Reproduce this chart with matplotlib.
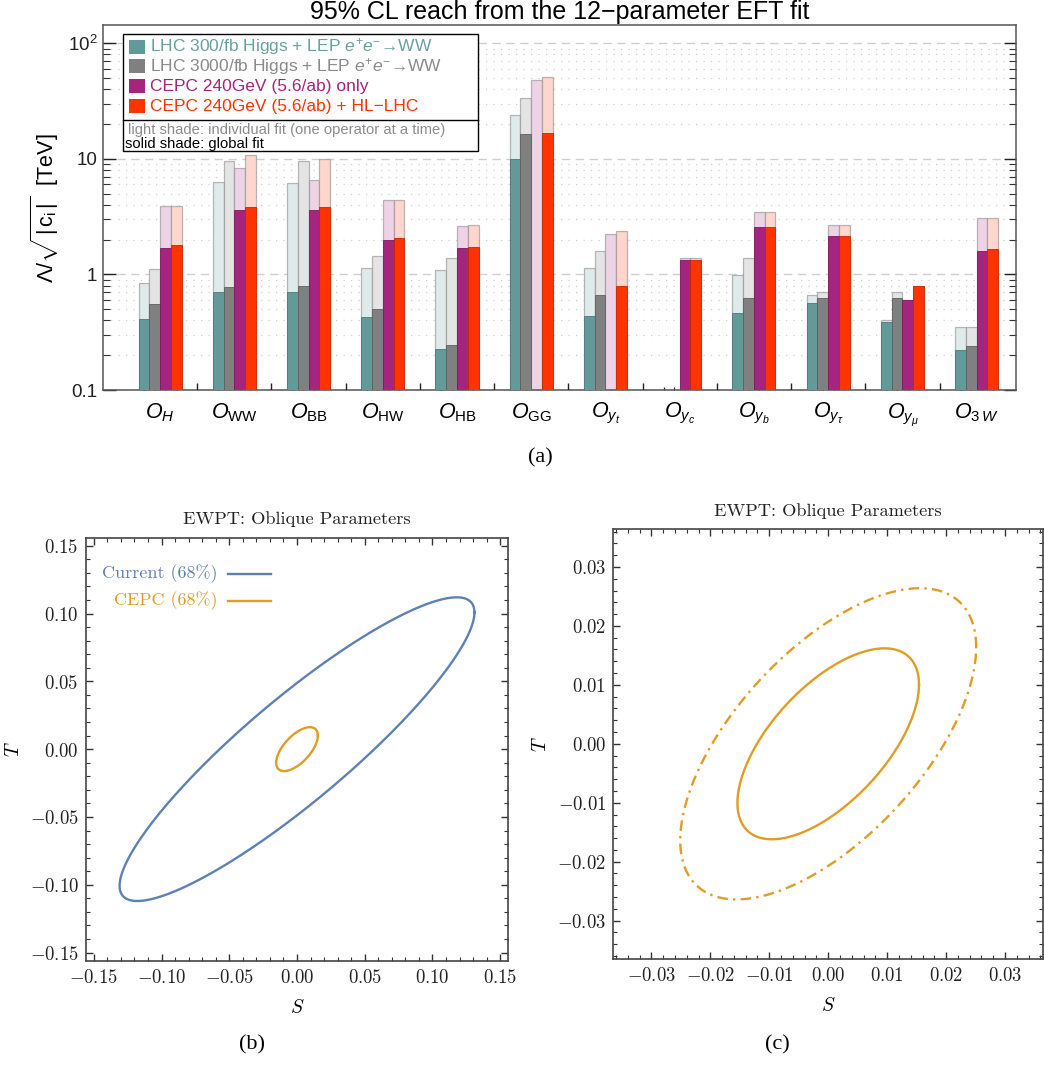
import numpy as np
import matplotlib
matplotlib.use("Agg")
import matplotlib.pyplot as plt
from matplotlib.patches import Rectangle
from matplotlib.ticker import FixedLocator, NullFormatter, MultipleLocator
from matplotlib.transforms import blended_transform_factory

plt.rcParams['mathtext.fontset'] = 'custom'
plt.rcParams['mathtext.rm'] = 'Liberation Sans'
plt.rcParams['mathtext.it'] = 'Liberation Sans:italic'
plt.rcParams['mathtext.bf'] = 'Liberation Sans:bold'

SANS = 'Liberation Sans'
SERIF = 'Liberation Serif'
CMR = 'cmr10'

# ---- (a) 95% CL reach, Lambda/sqrt(|c_i|) in TeV ----
operators = [r'$O_H$', r'$O_{\mathrm{WW}}$', r'$O_{\mathrm{BB}}$', r'$O_{\mathrm{HW}}$',
             r'$O_{\mathrm{HB}}$', r'$O_{\mathrm{GG}}$', r'$O_{y_t}$', r'$O_{y_c}$',
             r'$O_{y_b}$', r'$O_{y_\tau}$', r'$O_{y_\mu}$', r'$O_{3\,W}$']

nan = np.nan
# individual fit (one operator at a time)
lhc300_indiv = [0.85, 6.3, 6.2, 1.13, 1.09, 24.0, 1.14, nan, 0.99, 0.66, 0.40, 0.35]
lhc3000_indiv = [1.12, 9.6, 9.6, 1.43, 1.39, 33.3, 1.58, nan, 1.38, 0.71, 0.71, 0.35]
cepc_indiv = [3.9, 8.4, 6.6, 4.4, 2.65, 48.0, 2.25, 1.39, 3.5, 2.67, 0.60, 3.1]
cepc_hl_indiv = [3.9, 10.8, 10.0, 4.4, 2.69, 51.0, 2.39, 1.39, 3.5, 2.67, 0.79, 3.1]
# global fit
lhc300_glob = [0.41, 0.70, 0.71, 0.43, 0.225, 10.0, 0.44, nan, 0.46, 0.57, 0.39, 0.22]
lhc3000_glob = [0.56, 0.78, 0.79, 0.50, 0.245, 16.4, 0.66, nan, 0.63, 0.63, 0.62, 0.24]
cepc_glob = [1.68, 3.58, 3.58, 1.99, 1.68, nan, nan, 1.34, 2.57, 2.17, 0.60, 1.61]
cepc_hl_glob = [1.78, 3.80, 3.80, 2.05, 1.72, 16.8, 0.79, 1.34, 2.57, 2.17, 0.79, 1.66]

series_names = [r'LHC 300/fb Higgs + LEP $e^{+}e^{-}$' + '\u2192WW',
                r'LHC 3000/fb Higgs + LEP $e^{+}e^{-}$' + '\u2192WW',
                'CEPC 240GeV (5.6/ab) only',
                'CEPC 240GeV (5.6/ab) + HL\u2212LHC']
solid_colors = ['#639999', '#808080', '#a5247e', '#ff3300']
edge_colors = ['#4a7878', '#5e5e5e', '#7c1a5e', '#c42800']
light_colors = ['#dfeaea', '#e4e4e4', '#eed2e6', '#fed6cc']
text_colors = ['#6a9f9f', '#8a8a8a', '#a5247e', '#ff3300']

# ---- (b), (c) S,T ellipses: half-extents in S and T, correlation ----
current68 = dict(S0=0.0, T0=0.0, dS=0.131, dT=0.112, rho=0.90)
cepc68 = dict(S0=0.0, T0=0.0, dS=0.0154, dT=0.0162, rho=0.62)
cepc95 = dict(S0=0.0, T0=0.0, dS=0.0251, dT=0.0264, rho=0.62)
ticks_b = [-0.15, -0.10, -0.05, 0.0, 0.05, 0.10, 0.15]
ticks_c = [-0.03, -0.02, -0.01, 0.0, 0.01, 0.02, 0.03]
blue = '#5e81b5'
orange = '#e19c24'


def ellipse(p, n=400):
    t = np.linspace(0, 2 * np.pi, n)
    s = p['S0'] + p['dS'] * np.cos(t)
    tt = p['T0'] + p['dT'] * (p['rho'] * np.cos(t) + np.sqrt(1 - p['rho'] ** 2) * np.sin(t))
    return s, tt


fig = plt.figure(figsize=(10.44, 10.68), dpi=100)

# ================= (a) =================
ax = fig.add_axes([0.0987, 0.6348, 0.8745, 0.3415])
ax.set_yscale('log')
ymin = 0.1
ax.set_ylim(ymin, 143)
x = np.arange(len(operators))
ax.set_xlim(-0.768, 11.53)
bw = 0.145
offsets = np.array([-1.5, -0.5, 0.5, 1.5]) * bw

indiv = [lhc300_indiv, lhc3000_indiv, cepc_indiv, cepc_hl_indiv]
glob = [lhc300_glob, lhc3000_glob, cepc_glob, cepc_hl_glob]
for k in range(4):
    vi = np.array(indiv[k])
    vg = np.array(glob[k])
    ax.bar(x + offsets[k], vi - ymin, bottom=ymin, width=bw, color=light_colors[k],
           edgecolor=(0.55, 0.55, 0.55, 0.6), linewidth=0.9, zorder=2)
    ax.bar(x + offsets[k], vg - ymin, bottom=ymin, width=bw, color=solid_colors[k],
           edgecolor=edge_colors[k], linewidth=0.6, zorder=3)

ax.set_axisbelow(True)
ax.yaxis.grid(True, which='major', color='#cfcfcf', linestyle=(0, (6, 4)), linewidth=1.0)
ax.yaxis.grid(True, which='minor', color='#cfcfcf', linestyle=(0, (1, 5)), linewidth=0.9)
ax.set_yticks([0.1, 1, 10, 100], ['0.1', '1', '10', r'$10^2$'])
ax.yaxis.set_minor_formatter(NullFormatter())
ax.tick_params(axis='y', which='major', direction='in', length=9, width=1.0, right=True,
               labelsize=13.5, pad=4, colors='#222222')
ax.tick_params(axis='y', which='minor', direction='in', length=5, width=0.8, right=True,
               colors='#333333')
for lab in ax.get_yticklabels():
    lab.set_family(SANS)

ax.set_xticks(x, operators)
ax.xaxis.set_minor_locator(FixedLocator(np.concatenate([x + o for o in offsets])))
ax.tick_params(axis='x', which='major', length=0, labelsize=15.5, pad=8)
ax.tick_params(axis='x', which='minor', direction='in', length=2.5, width=0.9, colors='#222222')
trans = blended_transform_factory(ax.transData, ax.transAxes)
ax.vlines(x[:-1] + 0.5, 0, 0.02, transform=trans, color='#222222', linewidth=1.0, zorder=4)

for sp in ax.spines.values():
    sp.set_color('#555555')
    sp.set_linewidth(1.1)

ax.set_ylabel(r'$\Lambda/\sqrt{\,|\,\mathrm{c_i}\,|\,}$  [TeV]', fontsize=15.5, family=SANS, labelpad=5)
fig.text(0.536, 0.9885, '95% CL reach from the 12\u2212parameter EFT fit', ha='center', va='center',
         fontsize=18, family=SANS)

# legend box
box = Rectangle((0.0219, 0.6553), 0.3888, 0.3207, transform=ax.transAxes, facecolor='white',
                edgecolor='black', linewidth=1.0, zorder=6)
ax.add_patch(box)
ax.plot([0.0219, 0.4107], [0.7403, 0.7403], transform=ax.transAxes, color='black',
        linewidth=1.0, zorder=7)
rows = [0.9413, 0.8884, 0.8335, 0.7787]
for k in range(4):
    ax.add_patch(Rectangle((0.0285, rows[k] - 0.0196), 0.0172, 0.0392, transform=ax.transAxes,
                           facecolor=solid_colors[k], edgecolor='none', zorder=7))
    ax.text(0.0514, rows[k], series_names[k], transform=ax.transAxes, va='center', ha='left',
            fontsize=12.5, family=SANS, color=text_colors[k], zorder=8)
ax.text(0.0274, 0.7129, 'light shade: individual fit (one operator at a time)', transform=ax.transAxes,
        va='center', ha='left', fontsize=10.6, family=SANS, color='#8c8c8c', zorder=8)
ax.text(0.0241, 0.6745, 'solid shade: global fit', transform=ax.transAxes,
        va='center', ha='left', fontsize=10.6, family=SANS, color='black', zorder=8)

fig.text(540 / 1044, 1 - 458 / 1068, '(a)', ha='center', va='center', fontsize=16, family=SERIF)


# ================= (b), (c) =================
def style_st(a, lim, ticks, minor):
    a.set_xlim(-lim, lim)
    a.set_ylim(-lim, lim)
    labels = [r'$%.2f$' % v for v in ticks]
    a.set_xticks(ticks, labels)
    a.set_yticks(ticks, labels)
    a.xaxis.set_minor_locator(MultipleLocator(minor))
    a.yaxis.set_minor_locator(MultipleLocator(minor))
    a.tick_params(which='both', direction='in', top=True, right=True, colors='#333333',
                  labelcolor='#222222')
    a.tick_params(which='major', length=5, width=1.0, labelsize=13.5, pad=5)
    a.tick_params(which='minor', length=2.8, width=0.8)
    for lab in a.get_xticklabels() + a.get_yticklabels():
        lab.set_math_fontfamily('cm')
    for sp in a.spines.values():
        sp.set_color('#444444')
        sp.set_linewidth(1.2)
    a.set_xlabel(r'$S$', fontsize=14, labelpad=8, math_fontfamily='cm')
    a.set_ylabel(r'$T$', fontsize=14, labelpad=5, math_fontfamily='cm')


axb = fig.add_axes([0.0821, 0.1005, 0.4048, 0.3961])
s, t = ellipse(current68)
axb.plot(s, t, color=blue, linewidth=1.7)
s, t = ellipse(cepc68)
axb.plot(s, t, color=orange, linewidth=1.7)
style_st(axb, 0.156, ticks_b, 0.01)
fig.text(297 / 1044, 1 - 519 / 1068, 'EWPT: Oblique Parameters', ha='center', va='center',
         fontsize=13.2, family=CMR, color='#222222')
# in-plot legend
axb.text(218, 1068 - 574, 'Current (68%)', transform=None, ha='right', va='center',
         fontsize=13, family=CMR, color=blue)
axb.text(218, 1068 - 601, 'CEPC (68%)', transform=None, ha='right', va='center',
         fontsize=13, family=CMR, color=orange)
inv = axb.transAxes.inverted()
for yy, c in [(574, blue), (601, orange)]:
    p0 = inv.transform((228, 1068 - yy))
    p1 = inv.transform((271, 1068 - yy))
    axb.plot([p0[0], p1[0]], [p0[1], p1[1]], transform=axb.transAxes, color=c, linewidth=1.7)

axc = fig.add_axes([0.5872, 0.1021, 0.4122, 0.4029])
s, t = ellipse(cepc68)
axc.plot(s, t, color=orange, linewidth=1.7)
s, t = ellipse(cepc95)
axc.plot(s, t, color=orange, linewidth=1.7, linestyle=(0, (4.5, 2.2, 1, 2.2)))
style_st(axc, 0.0365, ticks_c, 0.002)
fig.text(828 / 1044, 1 - 511 / 1068, 'EWPT: Oblique Parameters', ha='center', va='center',
         fontsize=13.2, family=CMR, color='#222222')

fig.text(252 / 1044, 1 - 1045 / 1068, '(b)', ha='center', va='center', fontsize=16, family=SERIF)
fig.text(777 / 1044, 1 - 1045 / 1068, '(c)', ha='center', va='center', fontsize=16, family=SERIF)

fig.savefig('out.png', dpi=100)
